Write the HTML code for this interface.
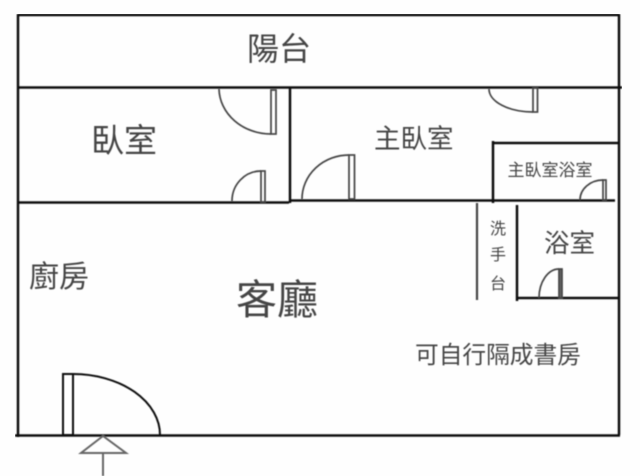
<!DOCTYPE html>
<html>
<head>
<meta charset="utf-8">
<style>
html,body{margin:0;padding:0;background:#fefefe;width:640px;height:476px;overflow:hidden}
svg{display:block}
text{font-family:"Liberation Sans","Noto Sans CJK TC",sans-serif;fill:#444}
</style>
</head>
<body>
<svg width="640" height="476" viewBox="0 0 640 476" xmlns="http://www.w3.org/2000/svg">
<defs><filter id="b" x="0" y="0" width="100%" height="100%"><feGaussianBlur stdDeviation="0.45"/></filter></defs>
<rect width="640" height="476" fill="#fefefe"/>
<g filter="url(#b)">
<g stroke="#111" stroke-width="2.500" fill="none">
<path d="M18 15H619M18 14V437M619 14V435M15 435.500H620M18 87.500H622"/>
<path d="M18 202.500H289M290 87V203M290 200.500H615"/>
<path d="M493 141V203M493 143H619"/>
<path d="M517 205V301M517 298H619"/>
</g>
<path d="M477 203V300" stroke="#444" stroke-width="2.200" fill="none"/>
<g stroke="#444" stroke-width="1.700" fill="none">
<path d="M219 89A52 46 0 0 0 271 134"/>
<rect x="271" y="90" width="5" height="44"/>
<path d="M232 201A29 30 0 0 1 261 171"/>
<rect x="261" y="171" width="4" height="31"/>
<path d="M302 199A47 44 0 0 1 349 155"/>
<rect x="349" y="155" width="5.500" height="44"/>
<path d="M489 89A44 23 0 0 0 533 112"/>
<rect x="533" y="88" width="4.500" height="24"/>
<path d="M580 200A23 20 0 0 1 603 180"/>
<rect x="603" y="180" width="3" height="20"/>
<path d="M539 298A20 29 0 0 1 559 269"/>
<rect x="559" y="269" width="3" height="29" fill="#666"/>
</g>
<g stroke="#111" stroke-width="2" fill="none">
<rect x="63" y="374" width="10" height="61"/>
<path d="M73 374A87 61 0 0 1 160 435"/>
</g>
<path d="M103 436L81 453H126ZM103 453V476" stroke="#666" stroke-width="2" fill="none"/>
<text x="247" y="60" font-size="32">陽台</text>
<text x="91" y="152" font-size="33">臥室</text>
<text x="374" y="148" font-size="26.500">主臥室</text>
<text x="507.500" y="176" font-size="17">主臥室浴室</text>
<text x="490" y="234" font-size="16">洗</text>
<text x="490" y="260" font-size="16">手</text>
<text x="490" y="289" font-size="16">台</text>
<text x="544" y="252" font-size="25.500">浴室</text>
<text x="29" y="287" font-size="30">廚房</text>
<text x="236" y="314" font-size="41">客廳</text>
<text x="415" y="363" font-size="23.700">可自行隔成書房</text>
</g>
</svg>
</body>
</html>
